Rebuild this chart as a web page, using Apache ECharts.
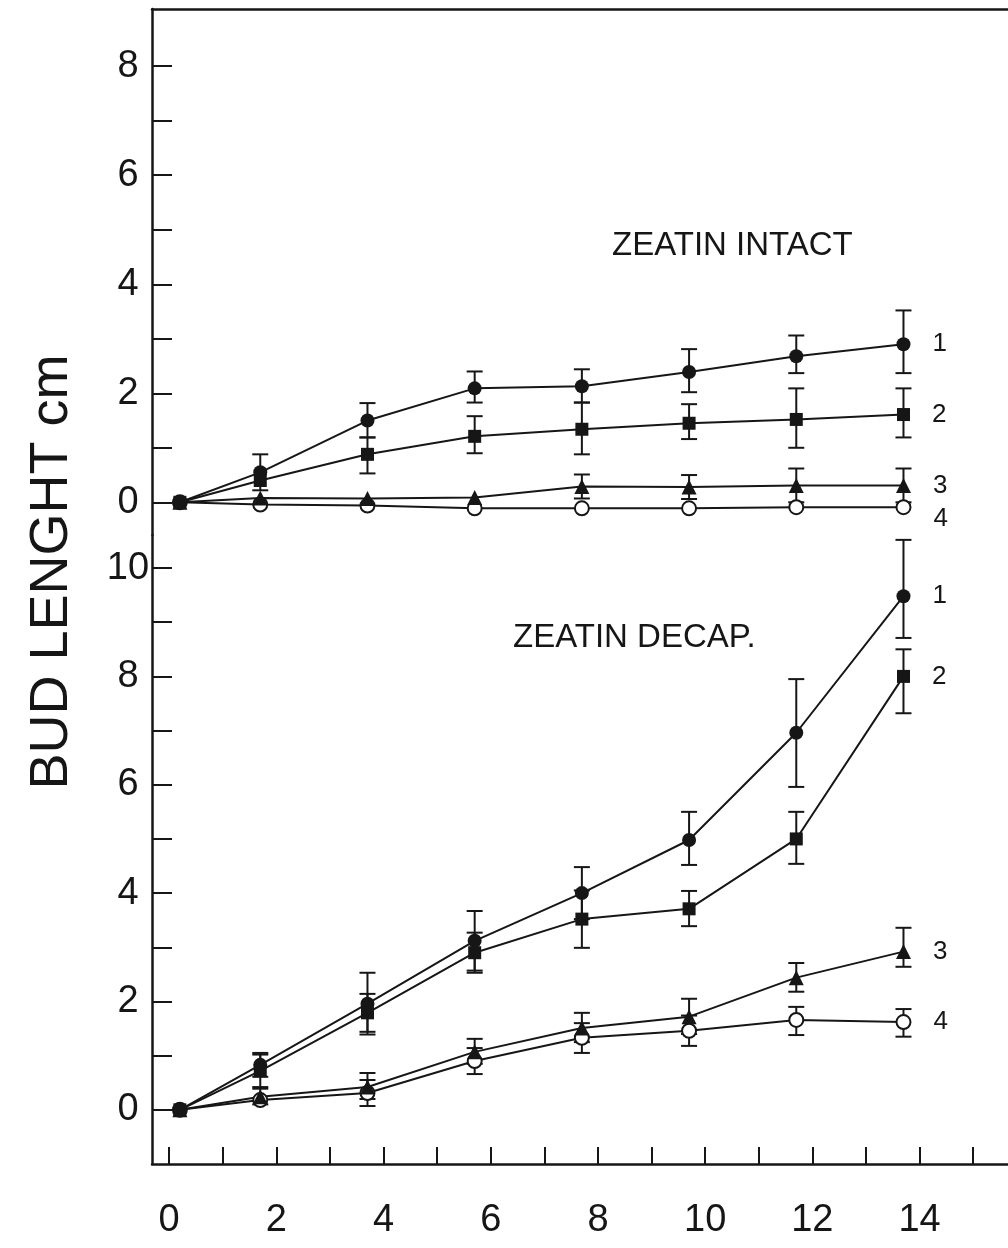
<!DOCTYPE html>
<html>
<head>
<meta charset="utf-8">
<script src="https://cdn.jsdelivr.net/npm/echarts@6/dist/echarts.min.js"></script>
<style>
html,body{margin:0;padding:0;background:#fff;}
#chart{width:1008px;height:1248px;}
</style>
</head>
<body>
<div id="chart"></div>
<script>
// ---- data ----
const days = [0.2, 1.7, 3.7, 5.7, 7.7, 9.7, 11.7, 13.7];
const xTickValues = [0,1,2,3,4,5,6,7,8,9,10,11,12,13,14,15];
const xLabelValues = [0,2,4,6,8,10,12,14];
const intactTickValues = [0,1,2,3,4,5,6,7,8];
const intactLabelValues = [0,2,4,6,8];
const decapTickValues = [0,1,2,3,4,5,6,7,8,9,10];
const decapLabelValues = [0,2,4,6,8,10];
const seriesTags = ['1','2','3','4'];
const yTitle = 'BUD LENGHT cm';
const panelTitles = ['ZEATIN INTACT', 'ZEATIN DECAP.'];

// Zeatin intact
const intact1 = [0, 0.55, 1.50, 2.09, 2.13, 2.39, 2.68, 2.90];
const intact1Lo = [null, 0.22, 1.19, 1.83, 1.83, 2.02, 2.37, 2.37];
const intact1Hi = [null, 0.88, 1.82, 2.40, 2.44, 2.81, 3.06, 3.52];
const intact2 = [0, 0.40, 0.88, 1.21, 1.34, 1.45, 1.52, 1.61];
const intact2Lo = [null, null, 0.53, 0.90, 0.88, 1.16, 1.00, 1.19];
const intact2Hi = [null, null, 1.19, 1.58, 1.83, 1.80, 2.09, 2.09];
const intact3 = [0, 0.08, 0.07, 0.09, 0.29, 0.28, 0.31, 0.31];
const intact3Lo = [null, null, null, null, 0.07, 0.06, 0.00, 0.00];
const intact3Hi = [null, null, null, null, 0.51, 0.50, 0.62, 0.62];
const intact4 = [0, -0.04, -0.06, -0.11, -0.11, -0.11, -0.09, -0.09];

// Zeatin decap
const decap1 = [0, 0.83, 1.96, 3.12, 4.00, 4.98, 6.96, 9.48];
const decap1Lo = [null, 0.61, 1.39, 2.57, 3.52, 4.52, 5.96, 8.71];
const decap1Hi = [null, 1.05, 2.53, 3.67, 4.48, 5.50, 7.95, 10.52];
const decap2 = [0, 0.72, 1.79, 2.90, 3.52, 3.71, 5.00, 8.00];
const decap2Lo = [null, 0.42, 1.44, 2.53, 2.99, 3.39, 4.54, 7.32];
const decap2Hi = [null, 1.02, 2.14, 3.27, 4.05, 4.04, 5.50, 8.50];
const decap3 = [0, 0.24, 0.42, 1.07, 1.51, 1.72, 2.44, 2.92];
const decap3Lo = [null, 0.10, 0.20, 0.85, 1.25, 1.40, 2.18, 2.64];
const decap3Hi = [null, 0.39, 0.68, 1.31, 1.79, 2.05, 2.71, 3.36];
const decap4 = [0, 0.18, 0.31, 0.90, 1.33, 1.46, 1.66, 1.62];
const decap4Lo = [null, null, 0.07, 0.66, 1.05, 1.18, 1.38, 1.35];
const decap4Hi = [null, null, 0.55, 1.14, 1.60, 1.74, 1.90, 1.86];

// ---- styles ----
const INK = '#161616';
const FONT = '"Liberation Sans", Arial, Helvetica, sans-serif';
const markers = [
  {symbol:'circle', size:14, color:INK, border:INK},
  {symbol:'rect', size:13, color:INK, border:INK},
  {symbol:'triangle', size:15, color:INK, border:INK},
  {symbol:'circle', size:14, color:'#ffffff', border:INK}
];

function lineSeries(vals, k, grid, tagOffset) {
  const m = markers[k];
  const data = vals.map((v, i) => {
    if (i === vals.length - 1) {
      return {value:[days[i], v], label:{show:true, formatter:seriesTags[k], position:'right',
        distance:22, offset:tagOffset || [0,0], color:INK, fontSize:26, fontFamily:FONT}};
    }
    return [days[i], v];
  });
  return {
    type:'line', xAxisIndex:grid, yAxisIndex:grid, data:data,
    symbol:m.symbol, symbolSize:m.size, showSymbol:true,
    lineStyle:{color:INK, width:2},
    itemStyle:{color:m.color, borderColor:m.border, borderWidth: k===3 ? 2 : 0, opacity:1},
    z: k===1 ? 6 : 5, animation:false, silent:true
  };
}

function errSeries(lo, hi, grid) {
  const data = [];
  lo.forEach((l, i) => { if (l !== null && hi[i] !== null) data.push([days[i], l, hi[i]]); });
  return {
    type:'custom', xAxisIndex:grid, yAxisIndex:grid, data:data, z:3, silent:true, animation:false,
    renderItem:function(params, api){
      const x = api.value(0);
      const a = api.coord([x, api.value(1)]);
      const b = api.coord([x, api.value(2)]);
      const w = 8;
      const st = {stroke:INK, lineWidth:2};
      return {type:'group', children:[
        {type:'line', shape:{x1:a[0], y1:a[1], x2:b[0], y2:b[1]}, style:st},
        {type:'line', shape:{x1:a[0]-w, y1:a[1], x2:a[0]+w, y2:a[1]}, style:st},
        {type:'line', shape:{x1:b[0]-w, y1:b[1], x2:b[0]+w, y2:b[1]}, style:st}
      ]};
    }
  };
}

const axisLineStyle = {show:true, onZero:false, lineStyle:{color:INK, width:2.5}};
const xMin = -0.32, xMax = 15.65;

const option = {
  backgroundColor:'#ffffff',
  animation:false,
  grid:[
    {left:152, right:0, top:9, height:526, containLabel:false},
    {left:152, right:0, top:535, height:629, containLabel:false}
  ],
  xAxis:[
    {type:'value', gridIndex:0, min:xMin, max:xMax, position:'top',
     axisLine:axisLineStyle, axisTick:{show:false}, axisLabel:{show:false}, splitLine:{show:false}},
    {type:'value', gridIndex:1, min:xMin, max:xMax, position:'bottom',
     axisLine:axisLineStyle,
     axisTick:{show:true, inside:true, length:17, lineStyle:{color:INK, width:2}, customValues:xTickValues},
     axisLabel:{show:true, customValues:xLabelValues, margin:38, fontSize:38, color:INK, fontFamily:FONT},
     splitLine:{show:false}}
  ],
  yAxis:[
    {type:'value', gridIndex:0, min:-0.6, max:9.05, position:'left',
     axisLine:axisLineStyle,
     axisTick:{show:true, inside:true, length:20, lineStyle:{color:INK, width:2}, customValues:intactTickValues},
     axisLabel:{show:true, customValues:intactLabelValues, margin:24, align:'center', fontSize:38, color:INK, fontFamily:FONT},
     splitLine:{show:false}},
    {type:'value', gridIndex:1, min:-1, max:10.61, position:'left',
     axisLine:axisLineStyle,
     axisTick:{show:true, inside:true, length:20, lineStyle:{color:INK, width:2}, customValues:decapTickValues},
     axisLabel:{show:true, customValues:decapLabelValues, margin:24, align:'center', fontSize:38, color:INK, fontFamily:FONT},
     splitLine:{show:false}}
  ],
  graphic:[
    {type:'text', left:612, top:229, style:{text:panelTitles[0], fontSize:33, fill:INK, fontFamily:FONT}},
    {type:'text', left:513, top:621, style:{text:panelTitles[1], fontSize:33, fill:INK, fontFamily:FONT}},
    {type:'text', x:52, y:572, rotation:Math.PI/2, style:{text:yTitle, fontSize:54, fill:INK, fontFamily:FONT, align:'center', verticalAlign:'middle'}}
  ],
  series:[
    errSeries(intact1Lo, intact1Hi, 0),
    errSeries(intact2Lo, intact2Hi, 0),
    errSeries(intact3Lo, intact3Hi, 0),
    lineSeries(intact4, 3, 0, [0,12]),
    lineSeries(intact3, 2, 0),
    lineSeries(intact1, 0, 0),
    lineSeries(intact2, 1, 0),
    errSeries(decap1Lo, decap1Hi, 1),
    errSeries(decap2Lo, decap2Hi, 1),
    errSeries(decap3Lo, decap3Hi, 1),
    errSeries(decap4Lo, decap4Hi, 1),
    lineSeries(decap4, 3, 1),
    lineSeries(decap3, 2, 1),
    lineSeries(decap1, 0, 1),
    lineSeries(decap2, 1, 1)
  ]
};

const chart = echarts.init(document.getElementById('chart'), null, {renderer:'canvas'});
chart.setOption(option);
</script>
</body>
</html>
